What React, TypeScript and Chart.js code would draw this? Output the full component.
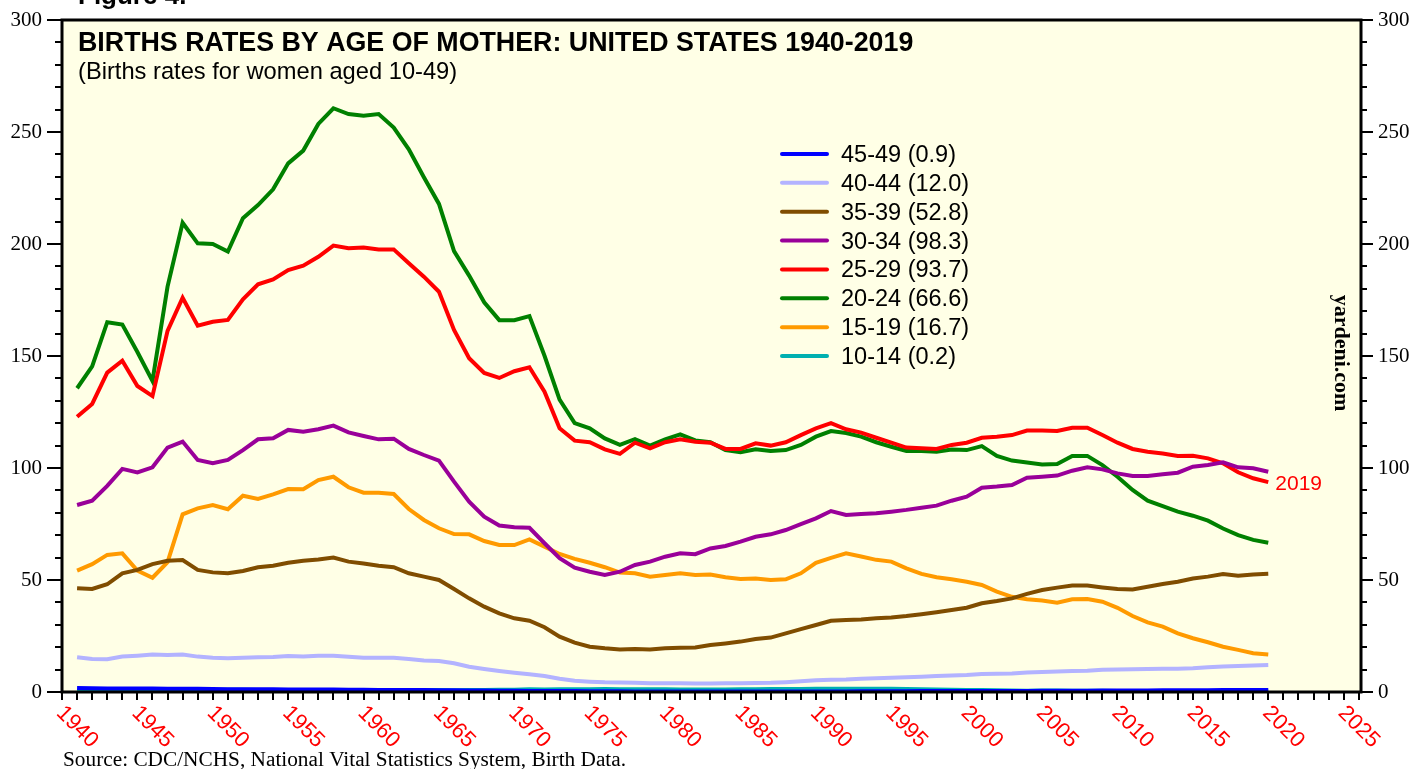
import React, { useEffect, useRef } from "react";
import { Chart, registerables } from "chart.js";

Chart.register(...registerables);

// ---------- data ----------
const years: number[] = Array.from({ length: 80 }, (_, i) => 1940 + i);

const seriesNames = ["45-49", "40-44", "35-39", "30-34", "25-29", "20-24", "15-19", "10-14"];
const legendLabels = [
  "45-49 (0.9)",
  "40-44 (12.0)",
  "35-39 (52.8)",
  "30-34 (98.3)",
  "25-29 (93.7)",
  "20-24 (66.6)",
  "15-19 (16.7)",
  "10-14 (0.2)",
];
const seriesColors = ["#0000ff", "#b3b3ff", "#804d00", "#990099", "#ff0000", "#008000", "#ff9a00", "#00b0b0"];

const age45_49 = [
  1.8, 1.7, 1.6, 1.6, 1.6, 1.6, 1.5, 1.5, 1.4, 1.3,
  1.2, 1.2, 1.2, 1.2, 1.1, 1.1, 1.1, 1.1, 1.0, 1.0,
  0.9, 0.9, 0.9, 0.9, 0.8, 0.8, 0.7, 0.7, 0.6, 0.6,
  0.5, 0.5, 0.4, 0.4, 0.3, 0.3, 0.3, 0.2, 0.2, 0.2,
  0.2, 0.2, 0.2, 0.2, 0.2, 0.2, 0.2, 0.2, 0.2, 0.2,
  0.2, 0.2, 0.3, 0.3, 0.3, 0.3, 0.4, 0.4, 0.4, 0.4,
  0.5, 0.5, 0.5, 0.5, 0.6, 0.6, 0.6, 0.6, 0.7, 0.7,
  0.7, 0.7, 0.8, 0.8, 0.8, 0.8, 0.9, 0.9, 0.9, 0.9,
];
const age40_44 = [
  15.5, 14.7, 14.6, 15.8, 16.2, 16.7, 16.5, 16.7, 15.8, 15.3,
  15.1, 15.3, 15.5, 15.6, 16.1, 15.9, 16.2, 16.2, 15.7, 15.3,
  15.3, 15.3, 14.7, 14.1, 13.8, 12.8, 11.3, 10.3, 9.4, 8.6,
  7.9, 7.1, 5.9, 5.0, 4.6, 4.3, 4.2, 4.1, 3.9, 3.9,
  3.9, 3.8, 3.8, 3.9, 3.9, 4.0, 4.1, 4.4, 4.8, 5.2,
  5.5, 5.6, 5.9, 6.1, 6.4, 6.6, 6.8, 7.1, 7.4, 7.6,
  8.0, 8.1, 8.3, 8.7, 8.9, 9.1, 9.4, 9.5, 9.9, 10.1,
  10.2, 10.3, 10.4, 10.4, 10.6, 11.0, 11.4, 11.6, 11.8, 12.0,
];
const age35_39 = [
  46.3, 46.0, 48.1, 53.0, 54.5, 57.1, 58.6, 58.9, 54.5, 53.4,
  53.0, 54.0, 55.7, 56.4, 57.7, 58.6, 59.2, 60.0, 58.2, 57.4,
  56.4, 55.7, 53.0, 51.5, 50.0, 46.0, 41.8, 38.1, 35.1, 32.9,
  31.8, 28.9, 24.7, 22.0, 20.2, 19.5, 19.0, 19.2, 19.0, 19.5,
  19.8, 19.9, 21.0, 21.7, 22.5, 23.7, 24.3, 26.2, 28.1, 29.9,
  31.8, 32.1, 32.4, 32.9, 33.3, 33.9, 34.7, 35.6, 36.6, 37.6,
  39.6, 40.6, 41.8, 43.8, 45.5, 46.6, 47.5, 47.5, 46.7, 46.0,
  45.8, 47.0, 48.2, 49.2, 50.7, 51.5, 52.7, 51.9, 52.5, 52.8,
];
const age30_34 = [
  83.5, 85.4, 92.0, 99.6, 98.0, 100.3, 109.1, 111.8, 103.6, 102.1,
  103.6, 108.0, 112.8, 113.3, 117.0, 116.2, 117.3, 118.9, 115.9, 114.3,
  112.8, 113.1, 108.5, 105.8, 103.3, 93.9, 85.0, 78.3, 74.3, 73.5,
  73.3, 66.4, 59.7, 55.5, 53.7, 52.2, 53.7, 56.7, 58.2, 60.4,
  61.9, 61.5, 64.1, 65.2, 67.1, 69.3, 70.4, 72.3, 74.9, 77.5,
  80.8, 79.0, 79.5, 79.8, 80.5, 81.3, 82.3, 83.2, 85.4, 87.2,
  91.2, 91.7, 92.4, 95.7, 96.1, 96.6, 98.8, 100.3, 99.4, 97.6,
  96.4, 96.4, 97.2, 97.9, 100.6, 101.3, 102.5, 100.3, 99.9, 98.3,
];
const age25_29 = [
  122.9, 128.6, 142.6, 147.9, 136.6, 132.1, 161.2, 176.0, 163.5, 165.3,
  166.1, 175.3, 182.0, 184.2, 188.4, 190.3, 194.3, 199.3, 198.1, 198.4,
  197.6, 197.6, 191.4, 185.4, 178.7, 161.6, 149.0, 142.4, 140.2, 143.2,
  145.0, 134.1, 117.7, 112.2, 111.5, 108.3, 106.3, 111.3, 108.8, 111.5,
  112.8, 111.7, 111.3, 108.5, 108.5, 111.0, 110.0, 111.5, 114.7, 117.7,
  120.0, 117.3, 115.8, 113.5, 111.3, 109.1, 108.8, 108.5, 110.3, 111.3,
  113.5, 114.0, 114.7, 116.7, 116.7, 116.5, 118.0, 118.0, 114.7, 111.3,
  108.5, 107.3, 106.5, 105.4, 105.5, 104.3, 102.1, 98.1, 95.4, 93.7,
];
const age20_24 = [
  135.6, 145.4, 165.1, 164.0, 151.8, 138.9, 181.0, 209.5, 200.3, 200.0,
  196.6, 211.5, 217.4, 224.4, 236.0, 241.7, 253.6, 260.6, 258.0, 257.3,
  258.0, 252.0, 242.3, 229.8, 217.9, 196.8, 185.9, 174.0, 166.0, 166.0,
  167.8, 150.1, 130.5, 120.0, 117.7, 113.2, 110.3, 112.9, 110.0, 112.8,
  115.0, 112.3, 111.5, 108.0, 107.0, 108.4, 107.6, 108.0, 110.3, 114.0,
  116.5, 115.6, 114.0, 111.5, 109.5, 107.6, 107.6, 107.3, 108.3, 108.0,
  109.8, 105.4, 103.3, 102.5, 101.6, 101.8, 105.4, 105.4, 101.3, 96.1,
  90.2, 85.4, 83.0, 80.5, 78.7, 76.5, 73.0, 70.0, 67.9, 66.6,
];
const age15_19 = [
  54.2, 57.1, 61.2, 61.9, 54.2, 51.0, 58.0, 79.3, 82.0, 83.5,
  81.6, 87.6, 86.2, 88.2, 90.6, 90.5, 94.6, 96.1, 91.4, 89.0,
  89.0, 88.4, 81.7, 76.8, 73.1, 70.5, 70.4, 67.4, 65.6, 65.6,
  68.1, 64.9, 61.6, 59.4, 57.7, 55.7, 53.3, 53.0, 51.5, 52.2,
  53.0, 52.2, 52.4, 51.2, 50.4, 50.7, 50.0, 50.3, 53.0, 57.7,
  59.9, 61.9, 60.5, 59.0, 58.2, 55.2, 52.7, 51.2, 50.3, 49.2,
  47.8, 44.8, 42.5, 41.4, 40.8, 39.9, 41.4, 41.5, 40.3, 37.6,
  33.9, 31.1, 29.2, 26.2, 24.0, 22.2, 20.2, 18.8, 17.3, 16.7,
];
const age10_14 = [
  0.7, 0.7, 0.7, 0.8, 0.8, 0.8, 0.8, 0.8, 0.8, 0.9,
  1.0, 1.0, 0.9, 0.9, 0.9, 0.9, 0.9, 0.9, 0.9, 0.9,
  0.8, 0.9, 0.8, 0.9, 0.9, 0.8, 0.9, 0.9, 1.0, 1.0,
  1.2, 1.1, 1.2, 1.2, 1.2, 1.3, 1.2, 1.2, 1.2, 1.2,
  1.1, 1.1, 1.1, 1.1, 1.2, 1.2, 1.3, 1.3, 1.3, 1.4,
  1.4, 1.4, 1.4, 1.4, 1.4, 1.3, 1.2, 1.1, 1.0, 0.9,
  0.9, 0.8, 0.7, 0.6, 0.7, 0.7, 0.6, 0.6, 0.6, 0.5,
  0.4, 0.4, 0.4, 0.3, 0.3, 0.2, 0.2, 0.2, 0.2, 0.2,
];
const seriesValues = [age45_49, age40_44, age35_39, age30_34, age25_29, age20_24, age15_19, age10_14];

const xTickYears: number[] = Array.from({ length: 87 }, (_, i) => 1939 + i);
const xLabelYears = [1940, 1945, 1950, 1955, 1960, 1965, 1970, 1975, 1980, 1985, 1990, 1995, 2000, 2005, 2010, 2015, 2020, 2025];
const yTickValues: number[] = Array.from({ length: 31 }, (_, i) => i * 10);

const TITLE = "BIRTHS RATES BY AGE OF MOTHER: UNITED STATES 1940-2019";
const SUBTITLE = "(Births rates for women aged 10-49)";
const SOURCE = "Source: CDC/NCHS, National Vital Statistics System, Birth Data.";
const FIGURE = "Figure 4.";
const BRAND = "yardeni.com";
const END_LABEL = "2019";

const SANS = "'Liberation Sans', Arial, sans-serif";
const SERIF = "'Liberation Serif', 'Times New Roman', serif";
const PLOT_BG = "#ffffe6";

function drawText(ctx: CanvasRenderingContext2D, text: string, x: number, y: number, font: string, color: string) {
  ctx.save();
  ctx.font = font;
  ctx.fillStyle = color;
  ctx.textAlign = "left";
  ctx.textBaseline = "alphabetic";
  ctx.fillText(text, x, y);
  ctx.restore();
}

const decorPlugin = {
  id: "decor",
  beforeDraw(chart: any) {
    const { ctx, chartArea: a } = chart;
    ctx.save();
    ctx.fillStyle = "#ffffff";
    ctx.fillRect(0, 0, chart.width, chart.height);
    ctx.fillStyle = PLOT_BG;
    ctx.fillRect(a.left, a.top, a.right - a.left, a.bottom - a.top);
    ctx.restore();
  },
  afterDatasetsDraw(chart: any) {
    const { ctx, chartArea: a } = chart;
    const xs = chart.scales.x;
    const ys = chart.scales.y;
    ctx.save();

    // frame
    ctx.strokeStyle = "#000";
    ctx.lineWidth = 3;
    ctx.strokeRect(a.left, a.top, a.right - a.left, a.bottom - a.top);

    // y ticks
    ctx.lineWidth = 2;
    ctx.beginPath();
    for (const v of yTickValues) {
      const py = Math.round(ys.getPixelForValue(v));
      const major = v % 50 === 0;
      ctx.moveTo(a.left - (major ? 15 : 7), py);
      ctx.lineTo(a.left, py);
      ctx.moveTo(a.right, py);
      ctx.lineTo(a.right + (major ? 12 : 6), py);
    }
    // x ticks
    for (const yr of xTickYears) {
      const px = Math.round(xs.getPixelForValue(yr));
      ctx.moveTo(px, a.bottom);
      ctx.lineTo(px, a.bottom + 8);
    }
    ctx.stroke();

    // x labels
    ctx.fillStyle = "#ff0000";
    ctx.font = `22px ${SANS}`;
    ctx.textAlign = "center";
    ctx.textBaseline = "middle";
    for (const yr of xLabelYears) {
      const px = xs.getPixelForValue(yr);
      ctx.save();
      ctx.translate(px, a.bottom + 35);
      ctx.rotate(Math.PI / 4);
      ctx.fillText(String(yr), 0, 0);
      ctx.restore();
    }

    // title & subtitle
    drawText(ctx, TITLE, a.left + 16, a.top + 31, `bold 26.8px ${SANS}`, "#000");
    drawText(ctx, SUBTITLE, a.left + 16, a.top + 58.5, `23.7px ${SANS}`, "#000");

    // legend
    chart.data.datasets.forEach((ds: any, i: number) => {
      const ry = 154 + i * 28.86;
      ctx.strokeStyle = ds.borderColor;
      ctx.lineWidth = 4;
      ctx.lineCap = "round";
      ctx.beginPath();
      ctx.moveTo(782, ry);
      ctx.lineTo(827, ry);
      ctx.stroke();
      drawText(ctx, legendLabels[i], 841, ry + 8, `23.5px ${SANS}`, "#000");
    });

    // end label
    const lastIdx = years.length - 1;
    const ex = xs.getPixelForValue(years[lastIdx]) + 7;
    const ey = ys.getPixelForValue(age25_29[lastIdx]);
    drawText(ctx, END_LABEL, ex, ey + 7.5, `21px ${SANS}`, "#ff0000");

    // brand
    ctx.save();
    ctx.translate(a.right - 20, 353);
    ctx.rotate(Math.PI / 2);
    ctx.font = `bold 22px ${SERIF}`;
    ctx.fillStyle = "#000";
    ctx.textAlign = "center";
    ctx.textBaseline = "middle";
    ctx.fillText(BRAND, 0, 0);
    ctx.restore();

    // source & figure
    drawText(ctx, SOURCE, 63, 766, `21.3px ${SERIF}`, "#000");
    drawText(ctx, FIGURE, 78, 4, `bold 26px ${SANS}`, "#000");

    ctx.restore();
  },
};

export default function App() {
  const ref = useRef<HTMLCanvasElement | null>(null);
  useEffect(() => {
    if (!ref.current) return;
    const datasets = seriesValues.map((vals, i) => ({
      label: seriesNames[i],
      data: vals.map((v, j) => ({ x: years[j], y: v })),
      borderColor: seriesColors[i],
      backgroundColor: seriesColors[i],
      borderWidth: 4,
      pointRadius: 0,
      tension: 0,
      fill: false,
      yAxisID: "y",
    }));
    const yTickFont = { family: SERIF, size: 21 };
    const chart = new Chart(ref.current, {
      type: "line",
      data: { datasets },
      options: {
        animation: false,
        responsive: false,
        devicePixelRatio: 1,
        layout: { padding: { top: 20, left: 0, right: 0, bottom: 0 } },
        plugins: { legend: { display: false }, tooltip: { enabled: false } },
        scales: {
          x: {
            type: "linear",
            min: 1939,
            max: 2025.15,
            grid: { display: false, drawTicks: false },
            border: { display: false },
            ticks: { display: false },
            afterFit: (s: any) => {
              s.height = 77;
            },
          },
          y: {
            type: "linear",
            position: "left",
            min: 0,
            max: 300,
            grid: { display: false, drawTicks: true, tickLength: 15 },
            border: { display: false },
            ticks: { stepSize: 50, padding: 5, color: "#000", font: yTickFont },
            afterFit: (s: any) => {
              s.width = 62;
            },
          },
          y2: {
            type: "linear",
            position: "right",
            display: true,
            min: 0,
            max: 300,
            grid: { display: false, drawTicks: true, tickLength: 12 },
            border: { display: false },
            ticks: { stepSize: 50, padding: 5, color: "#000", font: yTickFont },
            afterFit: (s: any) => {
              s.width = 57;
            },
          },
        },
      },
      plugins: [decorPlugin],
    } as any);
    return () => chart.destroy();
  }, []);
  return (
    <div style={{ position: "absolute", left: 0, top: 0, width: 1418, height: 769 }}>
      <canvas ref={ref} width={1418} height={769} style={{ width: 1418, height: 769, display: "block" }} />
    </div>
  );
}
